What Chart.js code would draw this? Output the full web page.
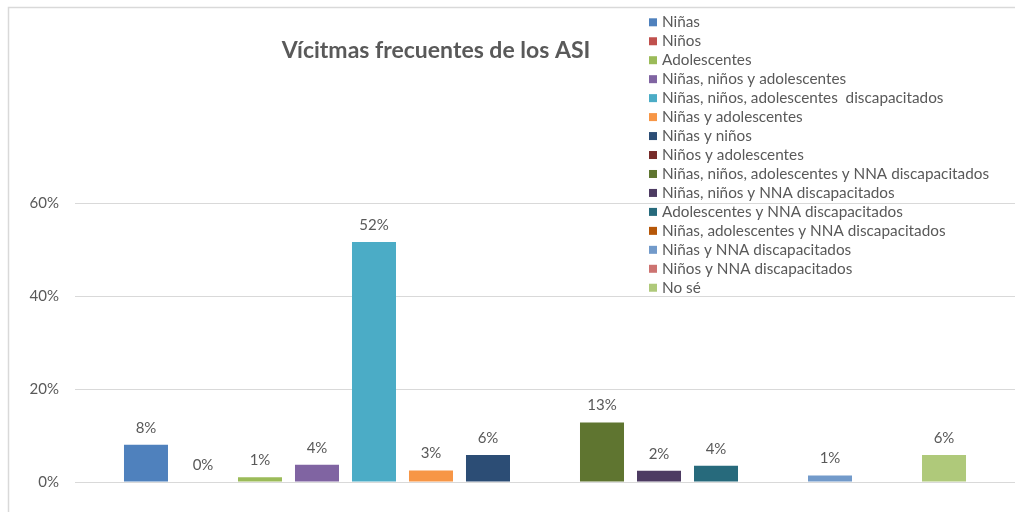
<!DOCTYPE html>
<html>
<head>
<meta charset="utf-8">
<title>Vícitmas frecuentes de los ASI</title>
<script src="https://cdn.jsdelivr.net/npm/chart.js"></script>
<style>
  html, body { margin: 0; padding: 0; background: #fff; overflow: hidden; }
  #wrap { position: relative; width: 1015px; height: 512px; }
</style>
</head>
<body>
<div id="wrap"><canvas id="myChart"></canvas></div>
<script>
// ==== data
const chartTitle = 'Vícitmas frecuentes de los ASI';

const categories = [
  'Niñas',
  'Niños',
  'Adolescentes',
  'Niñas, niños y adolescentes',
  'Niñas, niños, adolescentes  discapacitados',
  'Niñas y adolescentes',
  'Niñas y niños',
  'Niños y adolescentes',
  'Niñas, niños, adolescentes y NNA discapacitados',
  'Niñas, niños y NNA discapacitados',
  'Adolescentes y NNA discapacitados',
  'Niñas, adolescentes y NNA discapacitados',
  'Niñas y NNA discapacitados',
  'Niños y NNA discapacitados',
  'No sé'
];

// percent, null = no answer in the sheet
const values = [8.0, 0, 1.0, 3.7, 51.6, 2.5, 5.8, null, 12.8, 2.4, 3.5, null, 1.4, null, 5.8];

const colors = [
  '#4F81BD', '#C0504D', '#9BBB59', '#8064A2', '#4BACC6',
  '#F79646', '#2C4D75', '#772C2A', '#5F7530', '#4D3B62',
  '#276A7C', '#B65708', '#729ACA', '#CD7371', '#AFC97A'
];

const yTicks = [0, 20, 40, 60];

const FONT = 'Lato, "Open Sans", sans-serif';
const TEXT = '#595959';

// one series per category, like the sheet
const datasets = categories.map((name, i) => ({
  label: name,
  data: [values[i]],
  backgroundColor: colors[i],
  borderWidth: 0,
  barPercentage: 0.772,
  categoryPercentage: 0.9096
}));

// labels, title, legend and frame
const extras = {
  id: 'extras',
  afterDatasetsDraw(chart) {
    const ctx = chart.ctx;
    ctx.save();

    // value labels
    ctx.font = '15px ' + FONT;
    ctx.fillStyle = TEXT;
    ctx.textAlign = 'center';
    ctx.textBaseline = 'middle';
    chart.data.datasets.forEach((ds, i) => {
      const v = ds.data[0];
      if (v === null) return;
      const bar = chart.getDatasetMeta(i).data[0];
      ctx.fillText(Math.round(v) + '%', bar.x, bar.y - 17);
    });

    // title
    ctx.font = 'bold 23px ' + FONT;
    ctx.fillText(chartTitle, 436, 51);

    // legend
    ctx.font = '15.3px ' + FONT;
    ctx.textAlign = 'left';
    chart.data.datasets.forEach((ds, i) => {
      const y = 22.3 + i * 18.96;
      ctx.fillStyle = ds.backgroundColor;
      ctx.fillRect(649, y - 4, 8, 8);
      ctx.fillStyle = TEXT;
      ctx.fillText(ds.label, 662, y);
    });

    // frame
    ctx.strokeStyle = '#D9D9D9';
    ctx.lineWidth = 1.5;
    ctx.beginPath();
    ctx.moveTo(8.5, 512);
    ctx.lineTo(8.5, 7.5);
    ctx.lineTo(1015, 7.5);
    ctx.stroke();

    ctx.restore();
  }
};

// config
const config = {
  type: 'bar',
  data: {
    labels: [''],
    datasets
  },
  options: {
    responsive: true,
    maintainAspectRatio: false,
    animation: false,
    layout: {
      padding: { top: 203, bottom: 30, left: 0, right: 0 }
    },
    plugins: {
      legend: { display: false },
      title: { display: false },
      tooltip: { enabled: false }
    },
    scales: {
      x: { display: false },
      y: {
        min: 0,
        max: 60,
        afterBuildTicks: (axis) => {
          axis.ticks = yTicks.map(v => ({ value: v }));
        },
        afterFit: (scale) => {
          scale.width = 75;
        },
        border: { display: false },
        grid: { color: '#D9D9D9', lineWidth: 1, drawTicks: false },
        ticks: {
          padding: 16,
          color: TEXT,
          font: { family: FONT, size: 15 },
          callback: (v) => v + '%'
        }
      }
    }
  },
  plugins: [extras]
};

// render init block
const myChart = new Chart(
  document.getElementById('myChart'),
  config
);
</script>
</body>
</html>
